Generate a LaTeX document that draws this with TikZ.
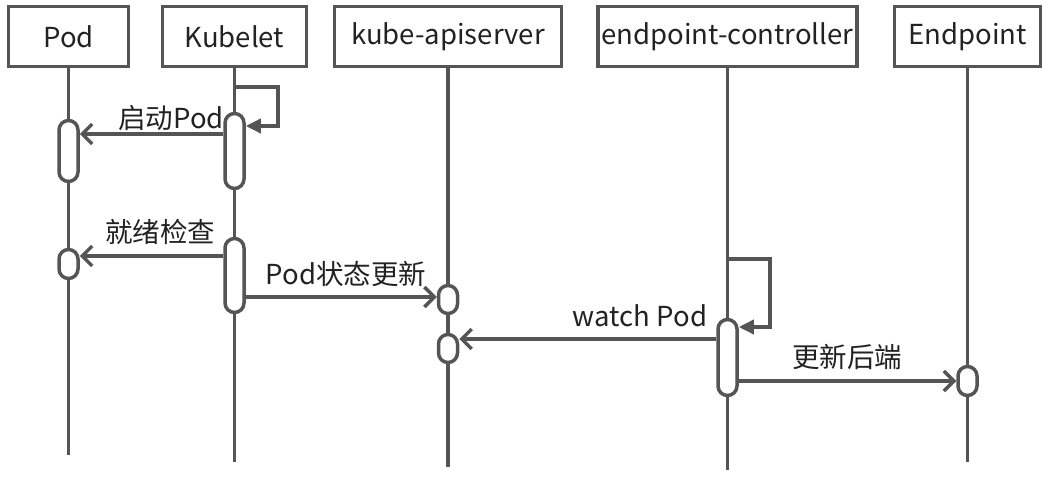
\documentclass[tikz,border=0pt]{standalone}
\usepackage{fontspec}
\setmainfont{Noto Sans CJK SC}
\usetikzlibrary{arrows.meta}
\definecolor{linegray}{HTML}{555555}
\definecolor{textgray}{HTML}{222222}
\tikzset{
  actor/.style={draw=linegray,line width=3.5pt,minimum height=60pt,inner sep=0pt,text=textgray},
  act/.style={draw=linegray,fill=white,line width=3.5pt,rounded corners=9.5pt,minimum width=19pt,inner sep=0pt},
  msg/.style={draw=linegray,line width=3.5pt,-{Straight Barb[length=10pt,width=20pt]}},
  selfmsg/.style={draw=linegray,line width=3.5pt,-{Triangle[length=15pt,width=14pt]}},
  msglabel/.style={inner sep=0pt,text=textgray}
}
\begin{document}
\begin{tikzpicture}[x=1pt,y=-1pt,font=\fontsize{27.5}{32}\selectfont]
    \useasboundingbox (0,0) rectangle (1051,489);
    %% participants
    \node[actor,minimum width=120pt] (pod) at (68.5,36.5) {Pod};
    \node[actor,minimum width=144pt] (kubelet) at (234.5,36.5) {Kubelet};
    \node[actor,minimum width=227pt] (api) at (448,36.5) {kube-apiserver};
    \node[actor,minimum width=259pt] (epc) at (727.5,36.5) {endpoint-controller};
    \node[actor,minimum width=146pt] (ep) at (967.5,36.5) {Endpoint};
    %% lifelines
    \coordinate (pod-end) at (pod.south |- 0,455);
    \coordinate (kubelet-end) at (kubelet.south |- 0,462);
    \coordinate (api-end) at (api.south |- 0,467);
    \coordinate (epc-end) at (epc.south |- 0,470);
    \coordinate (ep-end) at (ep.south |- 0,462);
    \foreach \p in {pod,kubelet,api,epc,ep}
        \draw[linegray,line width=3.5pt] (\p.south) -- (\p-end);
    %% activations
    \node[act,minimum height=75pt] (kubelet-a1) at (kubelet.south |- 0,151) {};
    \node[act,minimum height=61pt] (pod-a1) at (pod.south |- 0,151) {};
    \node[act,minimum height=74pt] (kubelet-a2) at (kubelet.south |- 0,275.5) {};
    \node[act,minimum height=29pt] (pod-a2) at (pod.south |- 0,264) {};
    \node[act,minimum height=28pt] (api-a1) at (api.south |- 0,299.5) {};
    \node[act,minimum height=28pt] (api-a2) at (api.south |- 0,348.5) {};
    \node[act,minimum height=76pt] (epc-a1) at (epc.south |- 0,357.5) {};
    \node[act,minimum height=29pt] (ep-a1) at (ep.south |- 0,381) {};
    %% messages
    \draw[selfmsg] (kubelet.south |- 0,87) -| (278,126) -- (kubelet-a1.east |- 0,126);
    \draw[msg] (kubelet-a1.west |- 0,134) -- (pod-a1.east |- 0,134);
    \node[msglabel] (start-pod) at (171,118) {启动Pod};
    \draw[msg] (kubelet-a2.west |- 0,256) -- (pod-a2.east |- 0,256);
    \node[msglabel] (ready-check) at (160,232) {就绪检查};
    \draw[msg] (kubelet-a2.east |- 0,297) -- (api-a1.west |- 0,297);
    \node[msglabel] (pod-status) at (346,274) {Pod状态更新};
    \draw[selfmsg] (epc.south |- 0,259) -| (770,327) -- (epc-a1.east |- 0,327);
    \draw[msg] (epc-a1.west |- 0,339) -- (api-a2.east |- 0,339);
    \node[msglabel] (watch-pod) at (640,316) {watch Pod};
    \draw[msg] (epc-a1.east |- 0,381) -- (ep-a1.west |- 0,381);
    \node[msglabel] (update-ep) at (847,357) {更新后端};
\end{tikzpicture}
\end{document}
